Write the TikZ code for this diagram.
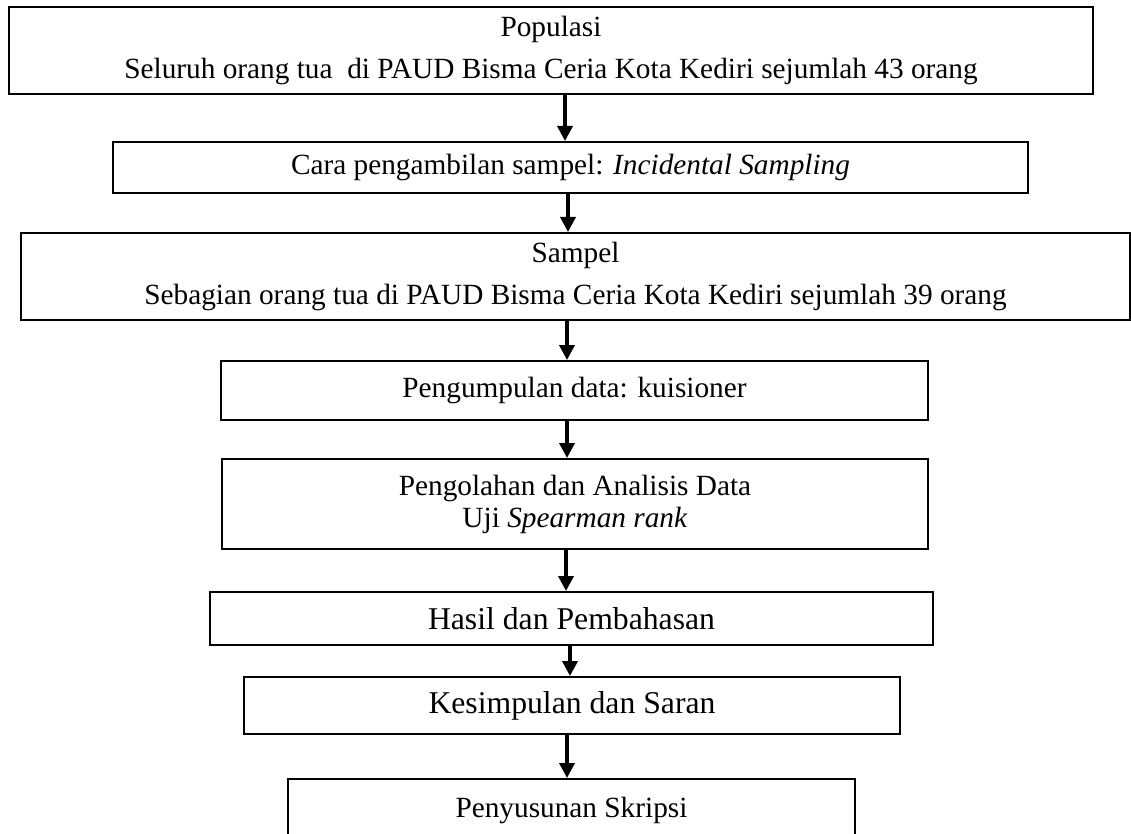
\documentclass[tikz,border=0pt]{standalone}
\usepackage{fontspec}
\setmainfont{Liberation Serif}
\usetikzlibrary{
    arrows.meta,
    positioning
}

\begin{document}
\begin{tikzpicture}[
    x=1pt, y=-1pt,
    block/.style={rectangle, draw=black, line width=2pt, inner sep=0pt,
                  text centered, align=center,
                  font=\fontsize{29.3}{42}\selectfont},
    bigblock/.style={block, font=\fontsize{31.7}{40}\selectfont},
    arrow/.style={-{Triangle[length=15pt,width=15pt]}, line width=3.5pt}
]
    \useasboundingbox (0,0) rectangle (1131,834);

    \node (pop) [block, minimum width=1084pt, minimum height=87pt] at (551,50.5)
        {Populasi\\Seluruh orang tua \ di PAUD Bisma Ceria Kota Kediri sejumlah 43 orang};
    \node (cara) [block, minimum width=915pt, minimum height=51pt] at (570.5,167.5)
        {Cara pengambilan sampel: \textit{Incidental Sampling}};
    \node (sampel) [block, minimum width=1109pt, minimum height=87pt] at (575.5,276.5)
        {Sampel\\Sebagian orang tua di PAUD Bisma Ceria Kota Kediri sejumlah 39 orang};
    \node (kumpul) [block, minimum width=707pt, minimum height=59pt] at (574.5,390.5)
        {Pengumpulan data: kuisioner};
    \node (olah) [block, font=\fontsize{29.3}{32}\selectfont,
                  minimum width=706pt, minimum height=90pt] at (575,504)
        {Pengolahan dan Analisis Data\\Uji \textit{Spearman rank}};
    \node (hasil) [bigblock, minimum width=723pt, minimum height=53pt] at (571.5,618.5)
        {Hasil dan Pembahasan};
    \node (simpul) [bigblock, minimum width=656pt, minimum height=57pt] at (572,705.5)
        {Kesimpulan dan Saran};
    \node (skripsi) [block, minimum width=567pt, minimum height=62pt] at (571.5,810)
        {Penyusunan Skripsi};

    \draw [arrow] (pop.south -| 565,0) -- (cara.north -| 565,0);
    \draw [arrow] (cara.south -| 568,0) -- (sampel.north -| 568,0);
    \draw [arrow] (sampel.south -| 567,0) -- (kumpul.north -| 567,0);
    \draw [arrow] (kumpul.south -| 567,0) -- (olah.north -| 567,0);
    \draw [arrow] (olah.south -| 566,0) -- (hasil.north -| 566,0);
    \draw [arrow] (hasil.south -| 570,0) -- (simpul.north -| 570,0);
    \draw [arrow] (simpul.south -| 567,0) -- (skripsi.north -| 567,0);

\end{tikzpicture}
\end{document}
